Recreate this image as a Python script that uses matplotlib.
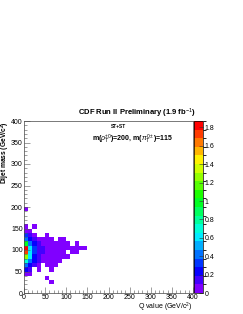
import colorsys
import numpy as np
import matplotlib
matplotlib.use("Agg")
import matplotlib.pyplot as plt
from matplotlib.colors import ListedColormap, BoundaryNorm
from matplotlib.ticker import MultipleLocator

plt.rcParams['font.family'] = ['Liberation Sans', 'DejaVu Sans']
plt.rcParams['mathtext.fontset'] = 'custom'
plt.rcParams['mathtext.rm'] = 'Liberation Sans'
plt.rcParams['mathtext.it'] = 'Liberation Sans:italic'
plt.rcParams['mathtext.bf'] = 'Liberation Sans:bold'

# Histogram binning (GeV/c^2) -------------------------------------------------
q_edges = np.arange(0, 410, 10)
m_edges = np.arange(0, 410, 10)

# Bin contents, one list per dijet-mass row (Q bins start at 0) --------------
row_m190 = [0.05]
row_m150 = [0.05, 0, 0.05]
row_m140 = [0.08, 0.05]
row_m130 = [0.30, 0.10, 0.05, 0, 0, 0.05]
row_m120 = [0.40, 0.20, 0.10, 0.05, 0.05, 0.05, 0.05, 0, 0.05, 0.05]
row_m110 = [1.00, 0.42, 0.25, 0.12, 0.08, 0.05, 0.05, 0.05, 0.05, 0.05, 0.05, 0, 0.05]
row_m100 = [1.85, 0.60, 0.30, 0.15, 0.10, 0.08, 0.05, 0.05, 0.05, 0.05, 0.05, 0.05, 0.05, 0.05, 0.05]
row_m90 = [1.75, 0.65, 0.30, 0.15, 0.10, 0.08, 0.05, 0.05, 0.05, 0.05, 0, 0.05, 0.05]
row_m80 = [1.30, 0.58, 0.25, 0.12, 0.08, 0.05, 0.05, 0.05, 0.05, 0.05, 0.05]
row_m70 = [0.70, 0.40, 0.20, 0.10, 0.05, 0.05, 0.05, 0.05, 0.05]
row_m60 = [0.38, 0.28, 0.10, 0.05, 0, 0.05, 0.05, 0.05]
row_m50 = [0.25, 0.10, 0, 0.05, 0, 0, 0.05]
row_m40 = [0.08, 0.05]
row_m30 = [0, 0, 0, 0, 0, 0.05]
row_m20 = [0, 0, 0, 0, 0, 0, 0.05]

rows = {190: row_m190, 150: row_m150, 140: row_m140, 130: row_m130,
        120: row_m120, 110: row_m110, 100: row_m100, 90: row_m90,
        80: row_m80, 70: row_m70, 60: row_m60, 50: row_m50, 40: row_m40,
        30: row_m30, 20: row_m20}

z = np.zeros((len(m_edges) - 1, len(q_edges) - 1))
for m_low, vals in rows.items():
    z[m_low // 10, :len(vals)] = vals
z = np.ma.masked_where(z <= 0, z)

z_max = 1.87
n_levels = 20

# ROOT style rainbow palette (purple -> red) ---------------------------------
hues = np.linspace(270, 0, n_levels) / 360.0
cmap = ListedColormap([colorsys.hsv_to_rgb(h, 1, 1) for h in hues])
norm = BoundaryNorm(np.linspace(0, z_max, n_levels + 1), n_levels)

# Canvas ----------------------------------------------------------------------
W, H = 243, 314
fig = plt.figure(figsize=(W / 100, H / 100), dpi=100)
ax = fig.add_axes([24 / W, 1 - 293 / H, 169 / W, 172 / H])
cax = fig.add_axes([194 / W, 1 - 293 / H, 9 / W, 172 / H])

mesh = ax.pcolormesh(q_edges, m_edges, z, cmap=cmap, norm=norm)
ax.set_xlim(0, 400)
ax.set_ylim(0, 400)

for a in (ax, cax):
    for s in a.spines.values():
        s.set_linewidth(0.5)
        s.set_color('#444444')

ax.xaxis.set_major_locator(MultipleLocator(50))
ax.xaxis.set_minor_locator(MultipleLocator(10))
ax.yaxis.set_major_locator(MultipleLocator(50))
ax.yaxis.set_minor_locator(MultipleLocator(10))
ax.tick_params(which='both', direction='in', labelsize=5, width=0.4,
               color='#555555', pad=1)
ax.tick_params(which='major', length=4.5)
ax.tick_params(which='minor', length=2.3)

ax.set_xlabel('Q value (GeV/c$^{2}$)', fontsize=5, ha='right', va='center')
ax.xaxis.set_label_coords(1.0, -(307 - 293) / 172)
ax.set_ylabel(r'Dijet mass (GeV/c$^{\mathbf{2}}$)', fontsize=4.8, ha='right',
              va='center', fontweight='bold')
ax.yaxis.set_label_coords(-(24 - 5.5) / 169, 1.0)

cb = fig.colorbar(mesh, cax=cax, ticks=np.arange(0, 1.81, 0.2))
cb.outline.set_linewidth(0.5)
cax.set_yticklabels(['0', '0.2', '0.4', '0.6', '0.8', '1', '1.2', '1.4', '1.6', '1.8'])
cax.tick_params(direction='in', length=3, width=0.4, labelsize=5, pad=1,
                color='#333333')

fig.text(196 / W, 1 - 113 / H, 'CDF Run II Preliminary (1.9 fb$^{-1}$)',
         fontsize=5.5, ha='right', va='center', fontweight='bold')
fig.text(119 / W, 1 - 126 / H, 'ST+ST', fontsize=3.5, ha='center',
         va='center', fontweight='bold')
fig.text(133 / W, 1 - 139 / H,
         r'm($\rho_{T}^{\pm0}$)=200, m($\pi_{T}^{0\pm}$)=115',
         fontsize=5, ha='center', va='center', fontweight='bold')

fig.savefig('out.png', dpi=100, facecolor='white')
